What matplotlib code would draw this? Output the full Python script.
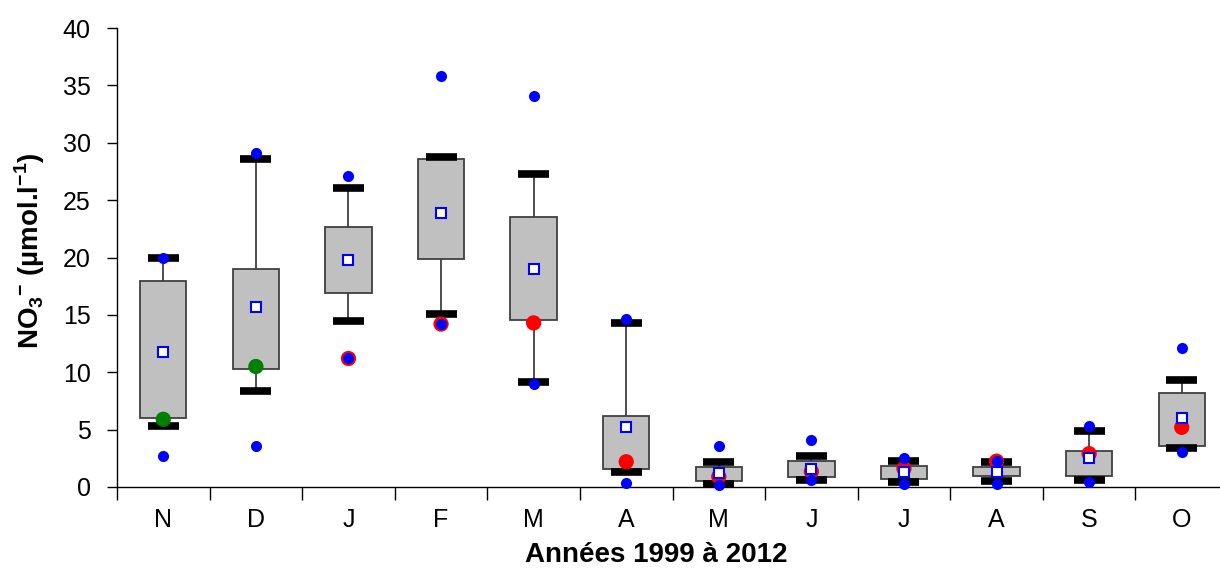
import numpy as np
import matplotlib
matplotlib.use("Agg")
import matplotlib.pyplot as plt

plt.rcParams['font.family'] = ['Liberation Sans', 'DejaVu Sans']
plt.rcParams['mathtext.fontset'] = 'custom'
plt.rcParams['mathtext.rm'] = 'Liberation Sans'
plt.rcParams['mathtext.bf'] = 'Liberation Sans:bold'

months = ['N', 'D', 'J', 'F', 'M', 'A', 'M', 'J', 'J', 'A', 'S', 'O']
q1 = [6.0, 10.3, 16.9, 19.9, 14.55, 1.6, 0.55, 0.85, 0.67, 1.0, 0.95, 3.55]
q3 = [17.95, 19.0, 22.7, 28.6, 23.5, 6.2, 1.7, 2.3, 1.83, 1.7, 3.1, 8.15]
whisk_lo = [5.3, 8.4, 14.5, 15.1, 9.15, 1.3, 0.3, 0.6, 0.4, 0.55, 0.6, 3.4]
whisk_hi = [20.0, 28.6, 26.1, 28.75, 27.3, 14.3, 2.2, 2.7, 2.3, 2.15, 4.9, 9.3]
means = [11.8, 15.7, 19.8, 23.9, 19.0, 5.2, 1.25, 1.6, 1.35, 1.35, 2.5, 6.0]
vmin = [2.73, 3.6, 11.2, 14.2, 9.0, 0.35, 0.17, 0.6, 0.3, 0.3, 0.4, 3.05]
vmax = [20.0, 29.1, 27.1, 35.8, 34.1, 14.6, 3.6, 4.1, 2.5, 2.25, 5.3, 12.1]
year_val = [5.9, 10.5, 11.2, 14.2, 14.3, 2.2, 0.9, 1.35, 1.6, 2.25, 2.9, 5.2]
year_col = ['green', 'green'] + ['red'] * 10

fig = plt.figure(figsize=(12.2, 5.69), dpi=100)
ax = fig.add_axes([117 / 1220, 82 / 569, 1111 / 1220, 459 / 569])

x = np.arange(len(months))
# whiskers
ax.vlines(x, q3, whisk_hi, color='#303030', lw=1.2, zorder=1)
ax.vlines(x, whisk_lo, q1, color='#303030', lw=1.2, zorder=1)
# boxes
ax.bar(x, np.array(q3) - np.array(q1), bottom=q1, width=0.5, color='#C0C0C0',
       edgecolor='#404040', linewidth=1.3, zorder=2)
# caps
cw = 0.167
ax.hlines(whisk_hi, x - cw, x + cw, color='black', lw=5.5, capstyle='butt', zorder=3)
ax.hlines(whisk_lo, x - cw, x + cw, color='black', lw=5.5, capstyle='butt', zorder=3)
# highlighted year
ax.scatter(x, year_val, s=11 ** 2, c=year_col, zorder=4, clip_on=False, linewidths=0)
# min / max
ax.plot(x, vmin, 'o', color='blue', ms=8, mec='none', zorder=5, clip_on=False)
ax.plot(x, vmax, 'o', color='blue', ms=8, mec='none', zorder=5, clip_on=False)
# mean
ax.plot(x, means, 's', color='white', mec='blue', mew=1.5, ms=7, zorder=6, clip_on=False)

ax.set_xlim(-0.5, 11.5)
ax.set_ylim(0, 40)
ax.set_yticks(np.arange(0, 41, 5))
ax.set_xticks(x)
ax.set_xticklabels(months)
ax.set_xticks(np.arange(-0.5, 12, 1), minor=True)
ax.tick_params(axis='x', which='major', length=0, pad=15, labelsize=18)
ax.tick_params(axis='x', which='minor', length=9, width=1, direction='out')
ax.tick_params(axis='y', length=7, width=1, pad=12, labelsize=18)
for s in ['top', 'right']:
    ax.spines[s].set_visible(False)
for s in ['left', 'bottom']:
    ax.spines[s].set_linewidth(1)

fig.text(30 / 1220, 1 - 251 / 569, r'NO$_\mathbf{3}$$^{\mathbf{-}}$ (µmol.l$^{\mathbf{-1}}$)',
         rotation=90, ha='center', va='center', fontsize=20, fontweight='bold')
fig.text(656 / 1220, 1.5 / 569, 'Années 1999 à 2012', ha='center', va='bottom',
         fontsize=20, fontweight='bold')

fig.savefig('out.png', dpi=100)
